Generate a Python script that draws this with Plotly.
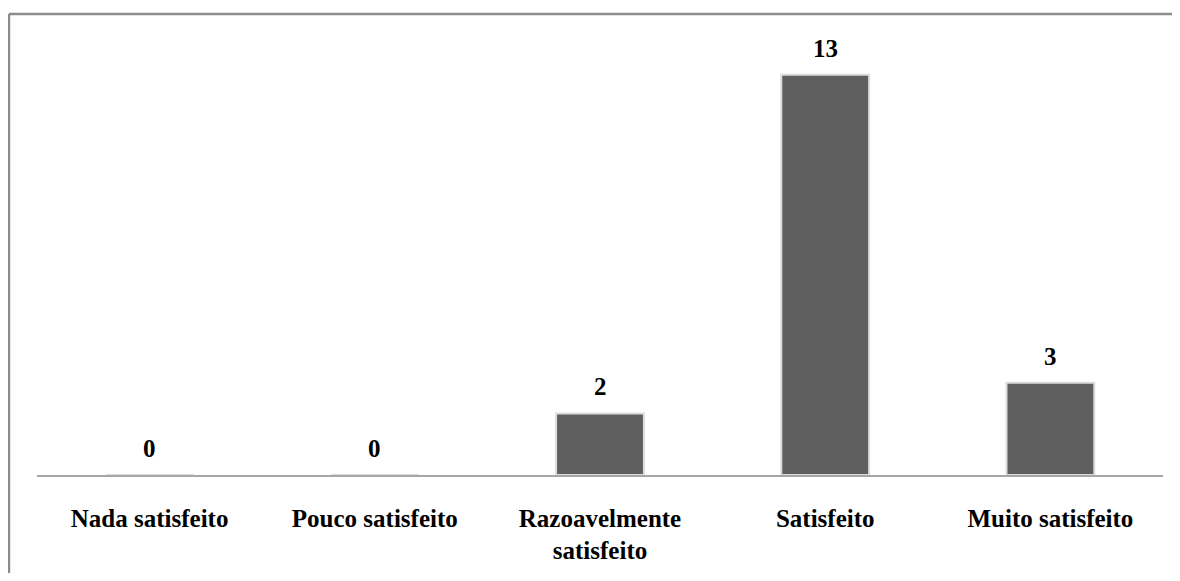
import plotly.graph_objects as go

# Survey answers: satisfaction level vs number of respondents
categories = ["Nada satisfeito", "Pouco satisfeito", "Razoavelmente<br>satisfeito",
              "Satisfeito", "Muito satisfeito"]
counts = [0, 0, 2, 13, 3]

BAR_COLOR = "#5f5f5f"
LABEL_FONT = dict(family="Liberation Serif", size=25, color="#000000", weight="bold")

fig = go.Figure()
fig.add_trace(go.Bar(
    x=categories,
    y=counts,
    marker=dict(color=BAR_COLOR, line=dict(color="#dcdcdc", width=2)),
    hoverinfo="x+y",
))

# value labels sit a fixed distance above each bar (also for the zero bars)
for cat, val in zip(categories, counts):
    fig.add_annotation(x=cat, y=val, text=str(val), showarrow=False,
                       yanchor="bottom", yshift=11, font=LABEL_FONT)

# outer chart frame (only top and left edges visible in the crop)
fig.add_shape(type="line", xref="paper", yref="paper",
              x0=-0.0249, x1=1.1, y0=1.0696, y1=1.0696,
              line=dict(color="#8c8c8c", width=2.5))
fig.add_shape(type="line", xref="paper", yref="paper",
              x0=-0.0249, x1=-0.0249, y0=1.0696, y1=-0.5,
              line=dict(color="#8c8c8c", width=2.5))

# page body has an 8px margin, so the figure is a bit smaller than the window
fig.update_layout(
    width=1172,
    height=565,
    paper_bgcolor="white",
    plot_bgcolor="white",
    bargap=0.61,
    showlegend=False,
    margin=dict(l=29, r=17, t=36, b=98, autoexpand=False),
    xaxis=dict(
        showline=True, linecolor="#a6a6a6", linewidth=1.5,
        showgrid=False, ticks="", tickfont=LABEL_FONT,
        ticklabelstandoff=20, automargin=False,
    ),
    yaxis=dict(
        range=[0, 14], visible=False, showgrid=False, zeroline=False,
    ),
)

fig.write_html("out.html")
